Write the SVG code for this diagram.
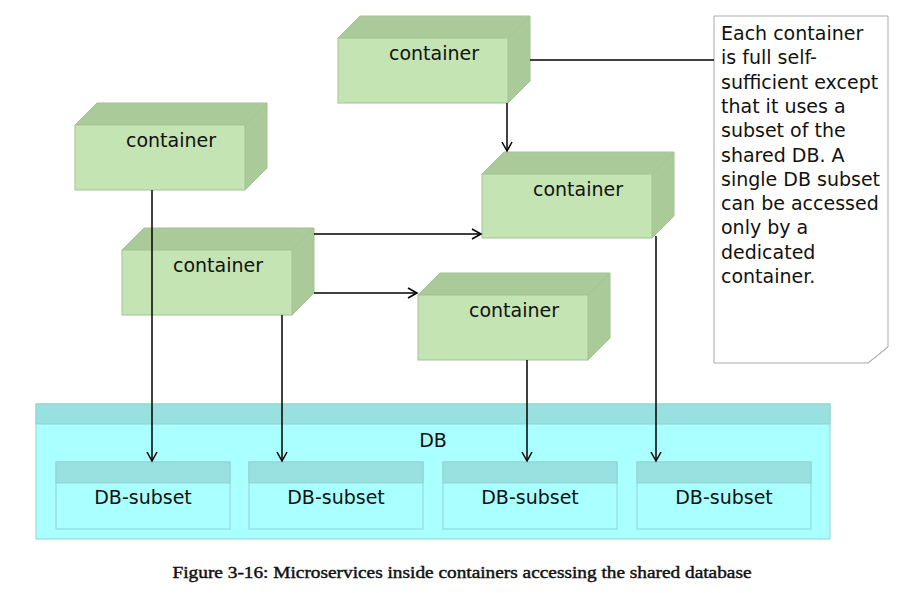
<svg xmlns="http://www.w3.org/2000/svg" width="905" height="593" viewBox="0 0 905 593">
<style>
.front{fill:#c5e4b3;stroke:#a3c393;stroke-width:1}
.dark{fill:#abca99;stroke:#a3c393;stroke-width:1}
.lbl{font-family:"DejaVu Sans","Liberation Sans",sans-serif;font-size:19px;fill:#111}
.db{fill:#aaffff;stroke:#8fd3d3;stroke-width:1}
.dbh{fill:#99e0e0;stroke:#8fd3d3;stroke-width:1}
.c{stroke:#000;stroke-width:1.5;fill:none}
</style>
<defs>
<marker id="ah" markerWidth="14" markerHeight="14" refX="10" refY="6" orient="auto" markerUnits="userSpaceOnUse">
<path d="M1,1 L10,6 L1,11" fill="none" stroke="#000" stroke-width="1.5"/>
</marker>
</defs>
<rect width="905" height="593" fill="#fff"/>

<g id="db">
<rect class="db" x="36" y="404" width="794" height="135"/>
<rect class="dbh" x="36" y="404" width="794" height="20"/>
<text class="lbl" x="433" y="447" text-anchor="middle">DB</text>
</g>
<g id="subset1">
<rect class="db" x="56" y="462" width="174" height="67"/>
<rect class="dbh" x="56" y="462" width="174" height="21"/>
<text class="lbl" x="143" y="504" text-anchor="middle">DB-subset</text>
</g>
<g id="subset2">
<rect class="db" x="249" y="462" width="174" height="67"/>
<rect class="dbh" x="249" y="462" width="174" height="21"/>
<text class="lbl" x="336" y="504" text-anchor="middle">DB-subset</text>
</g>
<g id="subset3">
<rect class="db" x="443" y="462" width="174" height="67"/>
<rect class="dbh" x="443" y="462" width="174" height="21"/>
<text class="lbl" x="530" y="504" text-anchor="middle">DB-subset</text>
</g>
<g id="subset4">
<rect class="db" x="637" y="462" width="174" height="67"/>
<rect class="dbh" x="637" y="462" width="174" height="21"/>
<text class="lbl" x="724" y="504" text-anchor="middle">DB-subset</text>
</g>

<g id="container1">
<path class="dark" d="M338,38 L360,16 L530,16 L530,81 L508,103 L508,38 Z"/>
<path class="dark" d="M508,38 L530,16"/>
<rect class="front" x="338" y="38" width="170" height="65"/>
<text class="lbl" x="434" y="60" text-anchor="middle">container</text>
</g>
<g id="container2">
<path class="dark" d="M75,125 L97,103 L267,103 L267,168 L245,190 L245,125 Z"/>
<path class="dark" d="M245,125 L267,103"/>
<rect class="front" x="75" y="125" width="170" height="65"/>
<text class="lbl" x="171" y="147" text-anchor="middle">container</text>
</g>
<g id="container3">
<path class="dark" d="M122,250 L144,228 L314,228 L314,293 L292,315 L292,250 Z"/>
<path class="dark" d="M292,250 L314,228"/>
<rect class="front" x="122" y="250" width="170" height="65"/>
<text class="lbl" x="218" y="272" text-anchor="middle">container</text>
</g>
<g id="container4">
<path class="dark" d="M482,174 L504,152 L674,152 L674,216 L652,238 L652,174 Z"/>
<path class="dark" d="M652,174 L674,152"/>
<rect class="front" x="482" y="174" width="170" height="64"/>
<text class="lbl" x="578" y="196" text-anchor="middle">container</text>
</g>
<g id="container5">
<path class="dark" d="M418,295 L440,273 L610,273 L610,338 L588,360 L588,295 Z"/>
<path class="dark" d="M588,295 L610,273"/>
<rect class="front" x="418" y="295" width="170" height="65"/>
<text class="lbl" x="514" y="317" text-anchor="middle">container</text>
</g>

<g id="note">
<path d="M714,16 L888,16 L888,347 L868,363 L714,363 Z" fill="#fff" stroke="#aaa" stroke-width="1"/>
<path d="M888,347 L868,363" fill="none" stroke="#aaa" stroke-width="1"/>
<text class="lbl" x="721" y="40">
<tspan x="721" y="40">Each container</tspan>
<tspan x="721" y="64.3">is full self-</tspan>
<tspan x="721" y="88.6">sufficient except</tspan>
<tspan x="721" y="112.9">that it uses a</tspan>
<tspan x="721" y="137.2">subset of the</tspan>
<tspan x="721" y="161.5">shared DB. A</tspan>
<tspan x="721" y="185.8">single DB subset</tspan>
<tspan x="721" y="210.1">can be accessed</tspan>
<tspan x="721" y="234.4">only by a</tspan>
<tspan x="721" y="258.7">dedicated</tspan>
<tspan x="721" y="283">container.</tspan>
</text>
</g>

<g id="connectors">
<path class="c" d="M530,60 L714,60"/>
<path class="c" d="M507,103 L507,151" marker-end="url(#ah)"/>
<path class="c" d="M314,234 L481,234" marker-end="url(#ah)"/>
<path class="c" d="M314,293 L417,293" marker-end="url(#ah)"/>
<path class="c" d="M152,190 L152,461" marker-end="url(#ah)"/>
<path class="c" d="M282,315 L282,461" marker-end="url(#ah)"/>
<path class="c" d="M527,360 L527,461" marker-end="url(#ah)"/>
<path class="c" d="M656,236 L656,461" marker-end="url(#ah)"/>
</g>

<text x="462" y="578" text-anchor="middle" font-family="'Liberation Serif',serif" font-size="17.5" fill="#111" stroke="#111" stroke-width="0.45" textLength="579" lengthAdjust="spacingAndGlyphs">Figure 3-16: Microservices inside containers accessing the shared database</text>
</svg>
